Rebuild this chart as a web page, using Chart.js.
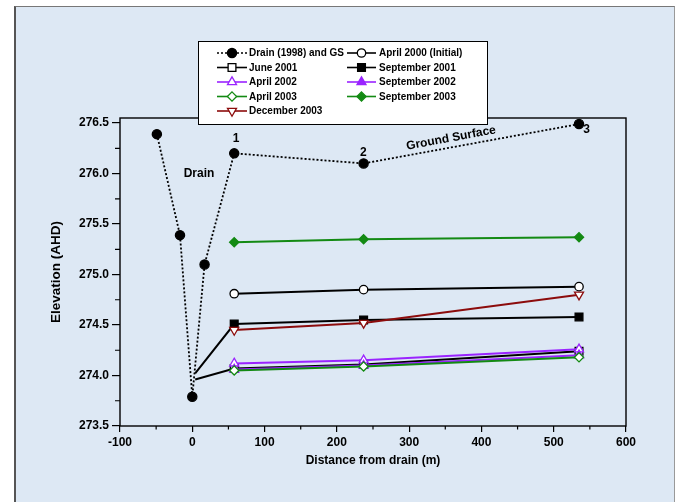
<!DOCTYPE html>
<html lang="en">
<head>
  <meta charset="UTF-8">
  <title>Elevation vs distance from drain</title>
  <script src="https://cdn.jsdelivr.net/npm/chart.js"></script>
  <style>
    body {
      margin: 0;
      background-color: #ffffff;
      font-family: 'Liberation Sans', Arial, sans-serif;
    }
    #panel {
      position: absolute;
      left: 14px;
      top: 6px;
      width: 658px;
      height: 520px;
      background-color: #dde8f4;
      border-left: 2px solid #555;
      border-top: 1px solid #777;
      border-right: 1px solid #999;
    }
    #chart {
      position: absolute;
      left: 0;
      top: 0;
    }
  </style>
</head>
<body>
  <div id="panel"></div>
  <canvas id="chart" width="676" height="502"></canvas>

  <script>
    // tick labels
    const xTicks = [-100, 0, 100, 200, 300, 400, 500, 600];
    const yTicks = [273.5, 274.0, 274.5, 275.0, 275.5, 276.0, 276.5];

    // drain cross-section (1998) and ground surface
    const drainX = [-49, -17, 0, 17, 58, 237, 535];
    const drainY = [276.39, 275.39, 273.79, 275.1, 276.2, 276.1, 276.49];

    // piezometer positions from the drain
    const pzX = [58, 237, 535];

    const april2000 = [274.81, 274.85, 274.88];
    const june2001X = [4, 58, 237, 535];
    const june2001 = [273.96, 274.07, 274.11, 274.24];
    const sep2001X = [4, 58, 237, 535];
    const sep2001 = [274.02, 274.51, 274.55, 274.58];
    const april2002 = [274.12, 274.15, 274.26];
    const sep2002 = [274.06, 274.10, 274.20];
    const april2003 = [274.05, 274.09, 274.18];
    const sep2003 = [275.32, 275.35, 275.37];
    const dec2003 = [274.45, 274.52, 274.80];

    // text notes on the plot
    const notes = [
      { text: '1', x: 60.6, y: 276.35, rot: 0 },
      { text: '2', x: 236.5, y: 276.21, rot: 0 },
      { text: '3', x: 545.5, y: 276.43, rot: 0 },
      { text: 'Drain', x: 9.3, y: 276.0, rot: 0 },
      { text: 'Ground Surface', x: 358, y: 276.35, rot: -10.5 }
    ];

    const PURPLE = '#9a24ff';
    const GREEN = '#138a13';
    const RED = '#8c0c0c';

    const pts = (xs, ys) => ys.map((y, i) => ({ x: xs[i], y }));

    function serie(label, data, color, style, filled, extra) {
      return Object.assign({
        label,
        data,
        borderColor: color,
        borderWidth: 2,
        pointStyle: style.shape,
        pointRadius: style.r,
        pointRotation: style.rot || 0,
        pointBorderColor: color,
        pointBorderWidth: 1.3,
        pointBackgroundColor: filled ? color : '#ffffff',
        fill: false,
        tension: 0
      }, extra || {});
    }

    const CIRCLE = { shape: 'circle', r: 4.2 };
    const DOT = { shape: 'circle', r: 4.6 };
    const SQUARE = { shape: 'rect', r: 5.5 };
    const TRI = { shape: 'triangle', r: 5.2 };
    const TRIDOWN = { shape: 'triangle', r: 5.2, rot: 180 };
    const DIAMOND = { shape: 'rectRot', r: 4.6 };

    const datasets = [
      serie('Drain (1998) and GS', pts(drainX, drainY), '#000', DOT, true, { borderDash: [2, 2], borderWidth: 1.8 }),
      serie('April 2000 (Initial)', pts(pzX, april2000), '#000', CIRCLE, false),
      serie('June 2001', pts(june2001X, june2001), '#000', SQUARE, false),
      serie('September 2001', pts(sep2001X, sep2001), '#000', SQUARE, true),
      serie('April 2002', pts(pzX, april2002), PURPLE, TRI, false),
      serie('September 2002', pts(pzX, sep2002), PURPLE, TRI, true),
      serie('April 2003', pts(pzX, april2003), GREEN, DIAMOND, false),
      serie('September 2003', pts(pzX, sep2003), GREEN, DIAMOND, true),
      serie('December 2003', pts(pzX, dec2003), RED, TRIDOWN, false)
    ];
    // later series on top, like the original plot
    datasets.forEach((d, i) => { d.order = -i; });
    // the 2001 lines start at the drain with no marker there
    datasets[2].pointRadius = [0, 5.5, 5.5, 5.5];
    datasets[3].pointRadius = [0, 5.5, 5.5, 5.5];

    function drawMarker(ctx, shape, r, rot, x, y, fillCol, strokeCol) {
      ctx.save();
      ctx.translate(x, y);
      ctx.rotate((rot || 0) * Math.PI / 180);
      ctx.beginPath();
      if (shape === 'circle') {
        ctx.arc(0, 0, r, 0, Math.PI * 2);
      } else if (shape === 'rect') {
        const s = r * Math.SQRT1_2;
        ctx.rect(-s, -s, 2 * s, 2 * s);
      } else if (shape === 'rectRot') {
        ctx.moveTo(0, -r); ctx.lineTo(r, 0); ctx.lineTo(0, r); ctx.lineTo(-r, 0);
        ctx.closePath();
      } else {
        for (let k = 0; k < 3; k++) {
          const a = k * 2 * Math.PI / 3;
          ctx[k ? 'lineTo' : 'moveTo'](Math.sin(a) * r, -Math.cos(a) * r);
        }
        ctx.closePath();
      }
      ctx.fillStyle = fillCol;
      ctx.fill();
      ctx.lineWidth = 1.3;
      ctx.strokeStyle = strokeCol;
      ctx.stroke();
      ctx.restore();
    }

    const framePlugin = {
      id: 'frame',
      beforeDatasetsDraw(chart) {
        const { ctx, chartArea: a } = chart;
        ctx.save();
        ctx.strokeStyle = '#000';
        ctx.lineWidth = 1.4;
        ctx.strokeRect(a.left, a.top, a.right - a.left, a.bottom - a.top);
        ctx.restore();
      },
      afterDatasetsDraw(chart) {
        const { ctx } = chart;
        const sx = chart.scales.x, sy = chart.scales.y;
        ctx.save();
        ctx.fillStyle = '#000';
        ctx.font = "bold 12px 'Liberation Sans', Arial, sans-serif";
        ctx.textAlign = 'center';
        ctx.textBaseline = 'middle';
        notes.forEach(n => {
          ctx.save();
          ctx.translate(sx.getPixelForValue(n.x), sy.getPixelForValue(n.y));
          ctx.rotate(n.rot * Math.PI / 180);
          ctx.fillText(n.text, 0, 0);
          ctx.restore();
        });
        ctx.restore();
      },
      afterDraw(chart) {
        const { ctx, chartArea: a } = chart;
        const sx = chart.scales.x, sy = chart.scales.y;
        // minor ticks halfway between the labelled ones
        ctx.save();
        ctx.strokeStyle = '#000';
        ctx.lineWidth = 1.2;
        ctx.beginPath();
        for (let i = 0; i < xTicks.length - 1; i++) {
          const px = (sx.getPixelForValue(xTicks[i]) + sx.getPixelForValue(xTicks[i + 1])) / 2;
          ctx.moveTo(px, a.bottom); ctx.lineTo(px, a.bottom + 3.5);
        }
        for (let i = 0; i < yTicks.length - 1; i++) {
          const py = (sy.getPixelForValue(yTicks[i]) + sy.getPixelForValue(yTicks[i + 1])) / 2;
          ctx.moveTo(a.left, py); ctx.lineTo(a.left - 5, py);
        }
        ctx.stroke();

        // legend box, two columns
        const bx = 198, by = 41, bw = 289, bh = 83;
        ctx.fillStyle = '#fff';
        ctx.fillRect(bx, by, bw, bh);
        ctx.strokeStyle = '#000';
        ctx.lineWidth = 1;
        ctx.strokeRect(bx + 0.5, by + 0.5, bw, bh);
        const cols = [{ l: 217, r: 247, t: 249 }, { l: 347, r: 376, t: 379 }];
        const rowY = [53, 67.5, 82, 96.5, 111];
        ctx.font = "bold 10px 'Liberation Sans', Arial, sans-serif";
        ctx.textBaseline = 'middle';
        ctx.textAlign = 'left';
        datasets.forEach((d, k) => {
          const c = cols[k % 2], y = rowY[Math.floor(k / 2)];
          ctx.save();
          ctx.strokeStyle = d.borderColor;
          ctx.lineWidth = 1.6;
          ctx.setLineDash(d.borderDash || []);
          ctx.beginPath();
          ctx.moveTo(c.l, y); ctx.lineTo(c.r, y);
          ctx.stroke();
          ctx.restore();
          const r = Array.isArray(d.pointRadius) ? d.pointRadius[d.pointRadius.length - 1] : d.pointRadius;
          drawMarker(ctx, d.pointStyle, r, d.pointRotation, (c.l + c.r) / 2, y, d.pointBackgroundColor, d.pointBorderColor);
          ctx.fillStyle = '#000';
          ctx.fillText(d.label, c.t, y + 0.5);
        });
        ctx.restore();
      }
    };

    Chart.defaults.font.family = "'Liberation Sans', Arial, sans-serif";
    Chart.defaults.color = '#000';

    new Chart(document.getElementById('chart'), {
      type: 'line',
      data: { datasets },
      options: {
        responsive: false,
        animation: false,
        layout: { padding: { left: 0, right: 50, top: 118, bottom: 0 } },
        plugins: { legend: { display: false }, tooltip: { enabled: false } },
        scales: {
          x: {
            type: 'linear',
            min: -100,
            max: 600,
            afterBuildTicks: s => { s.ticks = xTicks.map(v => ({ value: v })); },
            afterFit: s => { s.height = 76; },
            ticks: { font: { size: 12, weight: 'bold' }, color: '#000', padding: 3, maxRotation: 0, autoSkip: false },
            grid: { drawOnChartArea: false, drawTicks: true, tickLength: 6, color: '#000', lineWidth: 1.2 },
            border: { display: false },
            title: {
              display: true, text: 'Distance from drain (m)', color: '#000',
              font: { size: 12, weight: 'bold' }, padding: { top: 0, bottom: 34 }
            }
          },
          y: {
            type: 'linear',
            min: 273.5,
            max: 276.55,
            afterBuildTicks: s => { s.ticks = yTicks.map(v => ({ value: v })); },
            afterFit: s => { s.width = 120; },
            ticks: { font: { size: 12, weight: 'bold' }, color: '#000', padding: 3, callback: v => v.toFixed(1) },
            grid: { drawOnChartArea: false, drawTicks: true, tickLength: 8, color: '#000', lineWidth: 1.2 },
            border: { display: false },
            title: {
              display: true, text: 'Elevation (AHD)', color: '#000',
              font: { size: 13.5, weight: 'bold' }, padding: { top: 48, bottom: 0 }
            }
          }
        }
      },
      plugins: [framePlugin]
    });
  </script>
</body>
</html>
